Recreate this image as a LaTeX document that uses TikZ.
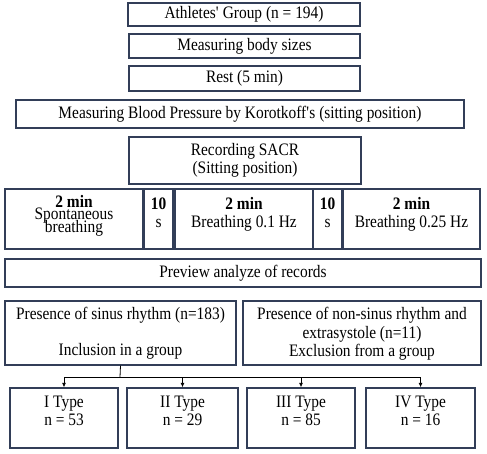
\documentclass[tikz,border=0pt]{standalone}
\usepackage{fontspec}
\setmainfont{Liberation Serif}[FakeStretch=0.88]
\usetikzlibrary{arrows.meta}
\definecolor{boxline}{RGB}{50,62,88}
\newcommand{\tightlines}{\lineskiplimit=-100pt\relax}

\begin{document}
\begin{tikzpicture}[
        x=1pt, y=-1pt,
        font=\fontsize{17.5}{18}\selectfont,
        box/.style={rectangle, draw=boxline, line width=1.3pt, inner sep=0pt, align=center},
        phase/.style={box, minimum height=60pt, text depth=13pt},
        typebox/.style={box, minimum height=60pt, text depth=14pt},
        link/.style={draw, line width=0.8pt},
        arrow/.style={link, -{Latex[length=4.5pt, width=4pt]}}
    ]
    \useasboundingbox (0,0) rectangle (487,454);

    % Steps
    \node[box, minimum width=232pt, minimum height=23pt] (group) at (244,14.5) {Athletes\textquotesingle{} Group (n = 194)};
    \node[box, minimum width=231pt, minimum height=24pt] (body) at (244.5,46) {Measuring body sizes};
    \node[box, minimum width=231pt, minimum height=25pt] (rest) at (244.5,78.5) {Rest (5 min)};
    \node[box, minimum width=448pt, minimum height=28pt] (pressure) at (240,114) {Measuring Blood Pressure by Korotkoff\textquotesingle s (sitting position)};
    \node[box, minimum width=232pt, minimum height=47pt] (sacr) at (245,160.5) {Recording SACR\\(Sitting position)};

    % Recording phases
    \node[phase, minimum width=138pt, text depth=11pt,
          font={\fontsize{17.5}{12.5}\selectfont\tightlines}] (spont) at (74,219) {\textbf{2 min}\\Spontaneous\\breathing};
    \node[phase, minimum width=29pt] (pausea) at (158.5,219) {\textbf{10}\\s};
    \node[phase, minimum width=138pt] (slow) at (244,219) {\textbf{2 min}\\Breathing 0.1 Hz};
    \node[phase, minimum width=29pt] (pauseb) at (327.5,219) {\textbf{10}\\s};
    \node[phase, minimum width=137pt] (fast) at (411.5,219) {\textbf{2 min}\\Breathing 0.25 Hz};

    % Selection
    \node[box, minimum width=476pt, minimum height=28pt] (preview) at (243,273) {Preview analyze of records};
    \node[box, minimum width=231pt, minimum height=64pt] (sinus) at (120.5,333) {Presence of sinus rhythm (n=183)\\[18pt]Inclusion in a group};
    \node[box, minimum width=238pt, minimum height=64pt, text depth=2pt,
          font=\fontsize{17.5}{18.5}\selectfont] (nonsinus) at (362,333) {Presence of non-sinus rhythm and\\extrasystole (n=11)\\Exclusion from a group};

    % Types
    \node[typebox, minimum width=108pt] (typeI) at (64,418) {I Type\\n = 53};
    \node[typebox, minimum width=111pt] (typeII) at (182.5,418) {II Type\\n = 29};
    \node[typebox, minimum width=108pt] (typeIII) at (301,418) {III Type\\n = 85};
    \node[typebox, minimum width=109pt] (typeIV) at (420.5,418) {IV Type\\n = 16};

    % Branching
    \coordinate (split) at (120,377);
    \draw[link] (sinus.south) -- (split);
    \draw[link] (typeI.north |- split) -- (typeIV.north |- split);
    \foreach \t in {typeI, typeII, typeIII, typeIV}
        \draw[arrow] (\t.north |- split) -- (\t.north);

    \end{tikzpicture}
\end{document}
